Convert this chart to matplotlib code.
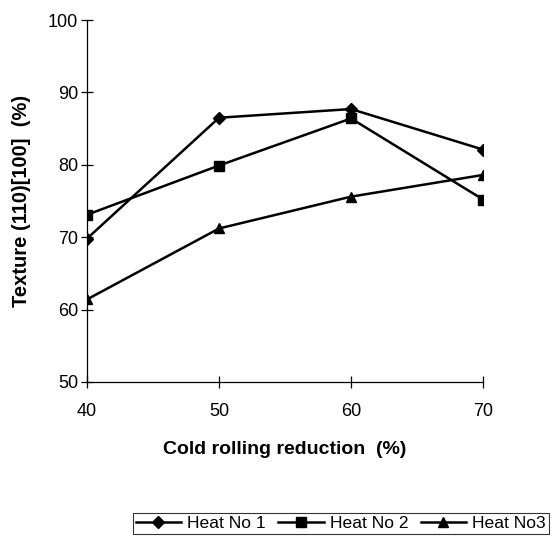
import matplotlib
matplotlib.use("Agg")
import matplotlib.pyplot as plt

plt.rcParams['font.family'] = ['Liberation Sans', 'DejaVu Sans']

reduction = [40, 50, 60, 70]
heat1 = [69.8, 86.5, 87.7, 82.1]
heat2 = [73.1, 79.9, 86.4, 75.2]
heat3 = [61.4, 71.2, 75.6, 78.6]
labels = ["Heat No 1", "Heat No 2", "Heat No3"]
xticks = [40, 50, 60, 70]
yticks = [50, 60, 70, 80, 90, 100]

fig = plt.figure(figsize=(5.54, 5.41), dpi=100)
ax = fig.add_axes([0.157, 0.294, 0.715, 0.669])

ax.plot(reduction, heat1, color='black', lw=1.8, marker='D', ms=6, label=labels[0])
ax.plot(reduction, heat2, color='black', lw=1.8, marker='s', ms=7, label=labels[1])
ax.plot(reduction, heat3, color='black', lw=1.8, marker='^', ms=7.5, label=labels[2])

ax.set_xlim(40, 70)
ax.set_ylim(50, 100)
ax.set_xticks(xticks)
ax.set_yticks(yticks)
for s in ['top', 'right']:
    ax.spines[s].set_visible(False)
for s in ['left', 'bottom']:
    ax.spines[s].set_linewidth(0.9)
ax.tick_params(direction='inout', length=9, width=0.9, labelsize=13)
ax.tick_params(axis='x', pad=11)
ax.tick_params(axis='y', pad=2)

ax.set_xlabel("Cold rolling reduction  (%)", fontsize=14, fontweight='bold', labelpad=15)
ax.set_ylabel("Texture (110)[100]  (%)", fontsize=14.5, fontweight='bold', labelpad=12)
for lab in ax.get_xticklabels() + ax.get_yticklabels():
    lab.set_clip_on(False)

leg = fig.legend(loc='upper left', bbox_to_anchor=(133/554, 1 - 513/541), ncol=3,
                 fontsize=12.6, frameon=True, fancybox=False, edgecolor='black',
                 handlelength=2.6, columnspacing=0.7, handletextpad=0.35,
                 borderpad=0.15, borderaxespad=0)
leg.get_frame().set_linewidth(0.8)

fig.savefig("out.png", dpi=100)
